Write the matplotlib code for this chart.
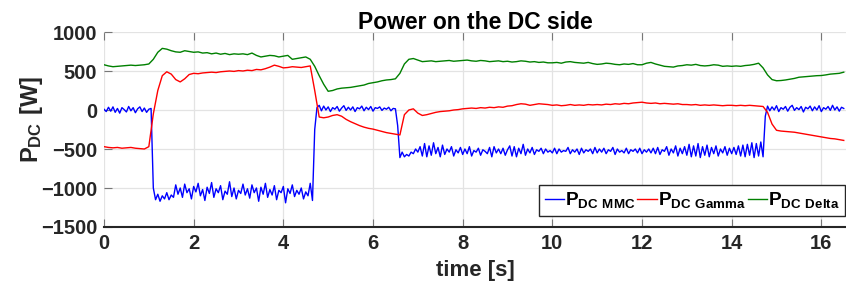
import numpy as np
import matplotlib
matplotlib.use("Agg")
import matplotlib.pyplot as plt

plt.rcParams['font.family'] = ['Liberation Sans', 'DejaVu Sans']
plt.rcParams['font.weight'] = 'bold'
plt.rcParams['mathtext.fontset'] = 'custom'
plt.rcParams['mathtext.rm'] = 'Liberation Sans:bold'
plt.rcParams['mathtext.bf'] = 'Liberation Sans:bold'

# MMC power, sampled every 0.05 s (0 .. 16.5 s)
p_mmc = [
    # 0.00 - 1.05
    10, -20, 35, -15, 40, -30, 20, -40, 30, 5, -25, 45, -10, 30, -35, 15, 40, -20, 25, -30, 10, 20,
    # 1.10 - 4.65
    -1000, -1150, -1080, -1170, -1100, -1140, -1060, -1150, -1090, -1120,
    -960, -1080, -1000, -1120, -950, -1060, -1010, -1140, -980, -1050,
    -940, -1100, -1020, -1160, -990, -1070, -930, -1120, -1010, -1060,
    -970, -1150, -1040, -1080, -920, -1110, -1000, -1140, -1030, -1070,
    -950, -1090, -1010, -1130, -960, -1060, -1000, -1170, -990, -1080,
    -940, -1120, -1020, -1090, -970, -1150, -1030, -1060, -980, -1190,
    -1010, -1070, -960, -1110, -1030, -1080, -1000, -1140, -1050, -1100,
    -940, -1160,
    # 4.70 - 6.50
    -250, 30,
    60, -10, 50, 0, 40, -20, 30, 10, 45, -15, 25, 55, -5, 35, 0, 40, -20, 30,
    15, 50, -10, 35, 5, 45, -15, 30, 20, 40, -5, 25, 10, 35, -10, 20, 15,
    # 6.55 - 14.70
    -200, -610,
    -540, -600, -570, -590, -540, -560, -500, -540,
    -470, -590, -430, -600, -460, -580, -420, -560, -480, -600,
    -450, -570, -500, -540, -470, -590, -510, -550, -480, -570,
    -500, -560, -470, -590, -520, -540, -490, -580, -510, -530,
    -560, -480, -600, -470, -550, -500, -560, -490, -580, -510,
    -460, -590, -470, -600, -490, -560, -440, -580, -500, -550,
    -480, -570, -510, -530, -490, -560, -500, -540, -520, -550,
    -490, -560, -500, -540, -520, -530, -480, -560, -510, -540,
    -500, -570, -490, -550, -510, -530, -500, -560, -480, -550,
    -500, -540, -490, -560, -510, -530, -480, -570, -500, -540,
    -520, -550, -490, -560, -510, -530, -500, -550, -490, -560,
    -510, -540, -500, -550, -490, -560, -480, -570, -510, -530,
    -470, -580, -500, -550, -460, -590, -490, -560, -470, -580,
    -440, -600, -460, -590, -430, -610, -470, -580, -450, -600,
    -480, -560, -460, -590, -500, -550, -470, -580, -490, -560,
    -480, -570, -460, -590, -450, -600, -440, -580, -420, -610,
    -430, -590, -410, -600,
    # 14.75 - 16.50
    -80,
    50, -10, 40, 0, 55, -20, 30, 10, 45, -15, 35, 60, -5, 30, 5, 45, -25, 35,
    15, 50, -10, 40, 0, 55, -20, 30, 10, 45, -5, 60, 0, 40, -15, 35, 20,
]

# Gamma and Delta power, sampled every 0.1 s (0 .. 16.5 s)
p_gamma = [
    -470, -480, -485, -480, -490, -485, -480, -490, -495, -500,
    -470, -50, 250, 440, 490, 460, 390, 360, 400, 455,
    470, 465, 475, 480, 485, 480, 490, 495, 500, 495,
    505, 500, 510, 505, 520, 515, 530, 550, 575, 560,
    540, 545, 555, 550, 545, 555, 565, 250, -90, -100,
    -90, -70, -60, -80, -120, -150, -175, -200, -220, -235,
    -245, -260, -275, -290, -300, -310, -320, -60, 0, 15,
    -40, -70, -60, -45, -30, -20, -15, -10, 0, 5,
    15, 20, 25, 20, 30, 25, 35, 30, 40, 35,
    50, 55, 70, 80, 75, 60, 70, 80, 75, 70,
    60, 65, 55, 60, 70, 60, 65, 60, 70, 65,
    70, 65, 75, 70, 80, 75, 85, 80, 90, 95,
    100, 90, 85, 90, 80, 85, 80, 75, 80, 70,
    70, 65, 70, 60, 65, 60, 65, 60, 55, 60,
    60, 55, 60, 55, 60, 55, 50, 45, -30, -180,
    -260, -270, -275, -280, -285, -295, -305, -315, -325, -335,
    -345, -355, -365, -370, -380, -390,
]

p_delta = [
    580, 565, 555, 560, 565, 570, 575, 570, 575, 580,
    590, 650, 740, 790, 780, 760, 745, 740, 760, 750,
    740, 745, 730, 735, 720, 730, 715, 725, 710, 720,
    715, 720, 710, 730, 700, 680, 690, 700, 695, 680,
    690, 700, 650, 660, 670, 680, 650, 560, 440, 330,
    240, 250, 270, 280, 285, 290, 300, 310, 320, 340,
    350, 360, 375, 385, 390, 400, 470, 590, 650, 660,
    640, 620, 625, 630, 620, 625, 630, 635, 625, 630,
    635, 640, 630, 625, 635, 630, 620, 625, 630, 620,
    625, 615, 620, 630, 625, 615, 620, 610, 615, 605,
    605, 610, 600, 615, 620, 610, 605, 600, 610, 595,
    585, 590, 600, 595, 585, 580, 590, 585, 595, 580,
    580, 600, 610, 590, 575, 560, 555, 550, 565, 570,
    580, 575, 585, 570, 565, 570, 580, 575, 560, 565,
    560, 565, 560, 570, 575, 585, 600, 540, 450, 390,
    375, 378, 385, 395, 405, 420, 425, 430, 435, 440,
    442, 450, 460, 465, 470, 485,
]

t_mmc = np.round(np.arange(len(p_mmc)) * 0.05, 2)
t_slow = np.round(np.arange(len(p_gamma)) * 0.1, 1)

fig = plt.figure(figsize=(8.46, 2.84), dpi=100)
ax = fig.add_axes([104 / 846, 57 / 284, 742 / 846, 195 / 284])

ax.plot(t_mmc, p_mmc, color=(0, 0, 1), lw=1.0, label=r'$\mathbf{P_{DC\ MMC}}$')
ax.plot(t_slow, p_gamma, color=(1, 0, 0), lw=1.0, label=r'$\mathbf{P_{DC\ Gamma}}$')
ax.plot(t_slow, p_delta, color=(0, 0.5, 0), lw=1.0, label=r'$\mathbf{P_{DC\ Delta}}$')

ax.set_xlim(0, 16.55)
ax.set_ylim(-1500, 1000)
ax.set_xticks(np.arange(0, 17, 2))
ax.set_yticks(np.arange(-1500, 1001, 500))
ax.grid(True, color='#e3e3e3', lw=0.9)

for side in ['left', 'top', 'right']:
    ax.spines[side].set_visible(False)
ax.spines['bottom'].set_color('#262626')
ax.spines['bottom'].set_linewidth(1.5)
ax.tick_params(direction='in', length=6, width=0.8, color='#777777',
               top=True, labelsize=14.5, labelcolor='#262626', pad=5)

ax.set_title('Power on the DC side', fontsize=16.5, fontweight='bold', pad=2)
ax.set_xlabel('time [s]', fontsize=16, fontweight='bold', color='#262626')
ax.xaxis.set_label_coords(0.5, -0.17)
ax.set_ylabel(r'$\mathbf{P_{DC}\ [W]}$', fontsize=17, color='#262626')
ax.yaxis.set_label_coords(-0.08, 0.55)

leg = ax.legend(loc='lower left', bbox_to_anchor=(0.586, 0.056), ncol=3,
                fontsize=13.8, handlelength=1.0, handletextpad=0.05,
                columnspacing=0.12, borderpad=0.3, borderaxespad=0,
                fancybox=False, framealpha=1, edgecolor='#262626')
leg.get_frame().set_linewidth(1.0)

fig.savefig('out.png', dpi=100)
